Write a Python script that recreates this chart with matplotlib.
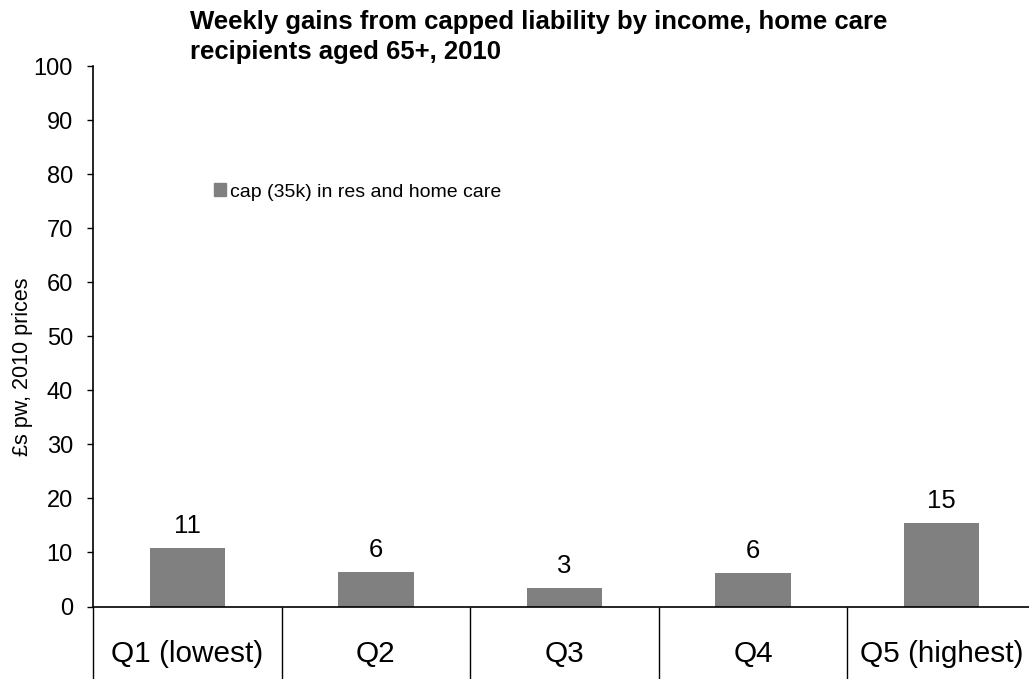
"""Weekly gains from capped liability by income quintile."""
from matplotlib import pyplot as plt
from matplotlib.patches import Patch
from matplotlib.ticker import FixedLocator

plt.rcParams['font.family'] = ['Liberation Sans', 'DejaVu Sans']

categories = ['Q1 (lowest)', 'Q2', 'Q3', 'Q4', 'Q5 (highest)']
gains = [10.85, 6.35, 3.45, 6.15, 15.4]
series_name = 'cap (35k) in res and home care'
yticks = list(range(0, 101, 10))
title_lines = ['Weekly gains from capped liability by income, home care',
               'recipients aged 65+, 2010']
ylabel = '£s pw, 2010 prices'

W, H = 1029, 679
fig = plt.figure(figsize=(W / 100, H / 100), dpi=100)
# right edge of the plot area runs a little past the figure edge
ax = fig.add_axes([93 / W, (H - 606.5) / H, 943 / W, 540.2 / H])

xpos = list(range(len(categories)))
bars = ax.bar(xpos, gains, width=0.4, color='#808080', zorder=2)
for bar, val in zip(bars, gains):
    ax.annotate(f'{val:.0f}', (bar.get_x() + bar.get_width() / 2, val),
                xytext=(0, 10), textcoords='offset pixels',
                ha='center', va='bottom', fontsize=18.5)

ax.set_xlim(-0.5, len(categories) - 0.5)
ax.set_ylim(0, 100)
ax.set_yticks(yticks)
ax.tick_params(axis='y', direction='out', length=4.5, width=1,
               labelsize=17, pad=10)

ax.set_xticks(xpos)
ax.set_xticklabels(categories, fontsize=21.4)
ax.tick_params(axis='x', which='major', length=0, pad=24)
bounds = [i - 0.5 for i in range(len(categories) + 1)]
ax.xaxis.set_minor_locator(FixedLocator(bounds))
ax.tick_params(axis='x', which='minor', direction='out', length=55,
               width=1, color='black')

for side in ('top', 'right'):
    ax.spines[side].set_visible(False)
for side in ('left', 'bottom'):
    ax.spines[side].set_linewidth(1.2)

ax.set_ylabel(ylabel, fontsize=15.5)
ax.yaxis.set_label_coords(-0.064, 0.443)

ax.legend(handles=[Patch(color='#808080', label=series_name)],
          loc='center left', bbox_to_anchor=(214 / W, 1 - 192 / H),
          bbox_transform=fig.transFigure, frameon=False, fontsize=14,
          handlelength=0.6, handleheight=0.6, handletextpad=0.2,
          borderpad=0, borderaxespad=0)

for line, base in zip(title_lines, [28.5, 59.5]):
    fig.text(190 / W, 1 - base / H, line, ha='left', va='baseline',
             fontsize=18.5, fontweight='bold')

fig.savefig('out.png', dpi=100)
